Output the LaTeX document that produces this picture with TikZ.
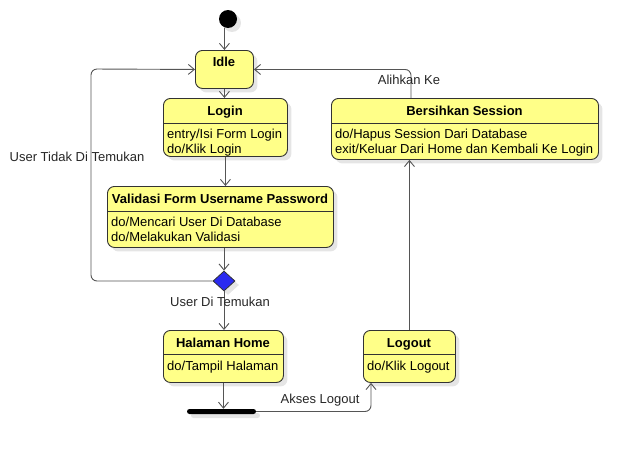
\documentclass[tikz,border=0pt]{standalone}
\usepackage{fontspec}
\setmainfont{Liberation Sans}
\usetikzlibrary{arrows.meta,shadows,shapes.geometric,calc}
\definecolor{uyellow}{HTML}{FFFF88}
\definecolor{ublue}{HTML}{2A2AF0}
\definecolor{uline}{HTML}{555555}
\definecolor{uborder}{HTML}{333333}
\begin{document}
\begin{tikzpicture}[x=1pt,y=-1pt,
  font=\fontsize{13}{15}\selectfont,
  statebox/.style={draw=uborder, fill=uyellow, rounded corners=7pt, line width=0.9pt,
    drop shadow={shadow xshift=4pt, shadow yshift=-4pt, fill=black!10, opacity=1},
    anchor=north west, inner sep=0pt},
  title/.style={font=\fontsize{13}{15}\selectfont\bfseries, inner sep=0pt, anchor=base},
  body/.style={anchor=base west, align=left, inner sep=0pt},
  sep/.style={draw=uborder, line width=0.9pt},
  arr/.style={draw=uline, line width=0.9pt, -{Straight Barb[length=6pt,width=10pt]}},
  lbl/.style={inner sep=0pt, text=black!85}]
\useasboundingbox (0,0) rectangle (637,455);

% initial
\node[circle, fill=black, minimum size=18pt, inner sep=0pt,
  drop shadow={shadow xshift=4pt, shadow yshift=-4pt, fill=black!10, opacity=1}] (init) at (228,19) {};

% Idle
\node[statebox, minimum width=58pt, minimum height=38pt] (idle) at (195,50) {};
\node[title] (idlet) at (224,66.5) {Idle};

% Login
\node[statebox, minimum width=124pt, minimum height=58pt] (login) at (163,98) {};
\node[title] (logint) at (225,115) {Login};
\draw[sep] (163,123) -- (287,123);
\node[body] (loginb) at (167,153.5) {entry/Isi Form Login\\do/Klik Login};

% Validasi
\node[statebox, minimum width=226pt, minimum height=61pt] (val) at (107,186) {};
\node[title] (valt) at (220,203.5) {Validasi Form Username Password};
\draw[sep] (107,211) -- (333,211);
\node[body] (valb) at (111,241) {do/Mencari User Di Database\\do/Melakukan Validasi};

% decision
\node[diamond, fill=ublue, draw=uborder, line width=0.8pt, minimum width=22pt, minimum height=20pt, inner sep=0pt,
  drop shadow={shadow xshift=4pt, shadow yshift=-4pt, fill=black!10, opacity=1}] (dia) at (224,281) {};

% Halaman Home
\node[statebox, minimum width=120pt, minimum height=52pt] (home) at (163,330) {};
\node[title] (homet) at (223,347.5) {Halaman Home};
\draw[sep] (163,354) -- (283,354);
\node[body] (homeb) at (167,370) {do/Tampil Halaman};

% Logout
\node[statebox, minimum width=92pt, minimum height=52pt] (logout) at (363,330) {};
\node[title] (logoutt) at (409,347.5) {Logout};
\draw[sep] (363,354) -- (455,354);
\node[body] (logoutb) at (367,370) {do/Klik Logout};

% Bersihkan Session
\node[statebox, minimum width=267pt, minimum height=61pt] (bers) at (331,98) {};
\node[title] (berst) at (464.5,115.5) {Bersihkan Session};
\draw[sep] (331,123) -- (598,123);
\node[body] (bersb) at (335,153) {do/Hapus Session Dari Database\\exit/Keluar Dari Home dan Kembali Ke Login};

% fork bar
\node[fill=black, rounded corners=2.5pt, minimum width=69pt, minimum height=5pt, inner sep=0pt,
  drop shadow={shadow xshift=4pt, shadow yshift=-4pt, fill=black!10, opacity=1}] (bar) at (221.5,411.5) {};

% connectors
\coordinate (loopc) at (91,69);
\coordinate (login_in) at ($(logout.south west)+(8,0)$);
\coordinate (bers_out) at ($(bers.north west)+(80,0)$);

\draw[arr] (init.south -| idle.north) -- (idle.north);
\draw[arr] (idle.south) -- (idle.south |- login.north);
\draw[arr] (login.south) -- (login.south |- val.north);
\draw[arr] (dia.north |- val.south) -- (dia.north);
\draw[arr, rounded corners=6pt] (dia.west) -| (loopc) -- (idle.west);
\draw[arr] (dia.south) -- (dia.south |- home.north);
\draw[arr] (home.south) -- (home.south |- bar.north);
\draw[arr, rounded corners=6pt] (bar.east) -| (login_in);
\draw[arr] (logout.north) -- (logout.north |- bers.south);
\draw[arr, rounded corners=6pt] (bers_out) |- (idle.east);

% labels
\node[lbl] (l1) at (77,157) {User Tidak Di Temukan};
\node[lbl] (l2) at (220,302) {User Di Temukan};
\node[lbl] (l3) at (409,80) {Alihkan Ke};
\node[lbl] (l4) at (320,400) {Akses Logout};
\end{tikzpicture}
\end{document}
